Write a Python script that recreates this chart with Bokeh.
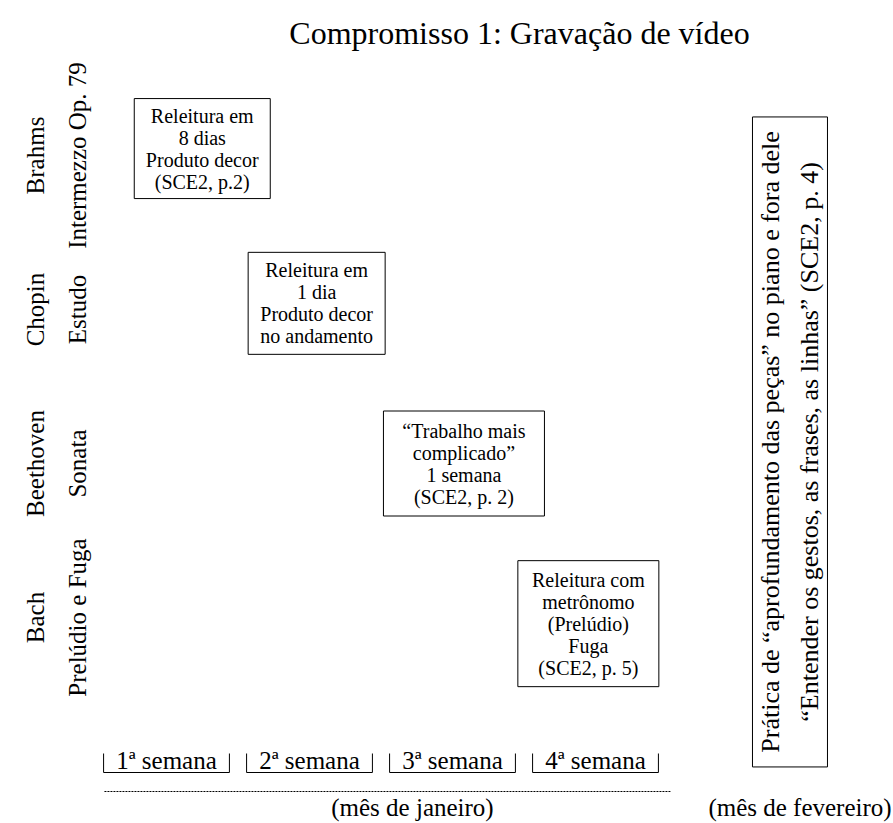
import math
from bokeh.plotting import figure
from bokeh.models import Range1d
from bokeh.core.properties import value
from bokeh.embed import file_html
from bokeh.resources import INLINE

# ---------------- data ----------------
TITLE = "Compromisso 1: Gravação de vídeo"
pieces = ["Brahms\nIntermezzo Op. 79", "Chopin\nEstudo", "Beethoven\nSonata", "Bach\nPrelúdio e Fuga"]
piece_rows = [1, 2, 3, 4]
weeks = ["1ª semana", "2ª semana", "3ª semana", "4ª semana"]
week_pos = [1, 2, 3, 4]
task_texts = [
    "Releitura em\n8 dias\nProduto decor\n(SCE2, p.2)",
    "Releitura em\n1 dia\nProduto decor\nno andamento",
    "\u201cTrabalho mais\ncomplicado\u201d\n1 semana\n(SCE2, p. 2)",
    "Releitura com\nmetrônomo\n(Prelúdio)\nFuga\n(SCE2, p. 5)",
]
task_week = [1.25, 2.05, 3.08, 3.95]
task_row = [0.955, 1.96, 3.0, 4.04]
months = ["(mês de janeiro)", "(mês de fevereiro)"]
month_pos = [2.72, 5.43]
feb_text = ("Prática de \u201caprofundamento das peças\u201d no piano e fora dele\n"
            "\u201cEntender os gestos, as frases, as linhas\u201d (SCE2, p. 4)")
feb_pos = 5.36
feb_row = 2.86

# ---------------- layout / style ----------------
W, H = 893, 823
PX_WEEK, PX_ROW = 143, 154          # pixels per week / per row
X1_PX, Y1_PX = 166, 155             # pixel position of week 1 / row 1
BOX_W = [136, 137, 161, 141]
BOX_H = [100, 102, 105, 126]
FEB_W, FEB_H = 75, 650
FONT = value("Liberation Serif")

def col(px):   # pixel -> week units
    return 1 + (px - X1_PX) / PX_WEEK

def row(py):   # pixel -> row units
    return 1 + (py - Y1_PX) / PX_ROW

p = figure(width=W, height=H, output_backend="svg", toolbar_location=None,
           x_range=Range1d(col(0), col(W)), y_range=Range1d(row(H), row(0)),
           min_border=0, outline_line_color=None)
p.axis.visible = False
p.grid.visible = False
p.background_fill_color = "white"
p.border_fill_color = "white"

# title
p.text(x=[col(519)], y=[row(32)], text=[TITLE], text_align="center", text_baseline="middle",
       text_font=FONT, text_font_size="32px", text_color="black")

# piece labels (rotated)
p.text(x=[col(56)] * len(pieces), y=piece_rows, text=pieces, angle=math.pi / 2,
       text_align="center", text_baseline="middle", text_font=FONT, text_font_size="25px",
       text_line_height=1.55, text_color="black")

# task boxes
p.rect(x=task_week, y=task_row, width=BOX_W, height=BOX_H, width_units="screen",
       height_units="screen", fill_color=None, line_color="black", line_width=1)
p.text(x=task_week, y=task_row, text=task_texts, text_align="center", text_baseline="middle",
       text_font=FONT, text_font_size="20px", text_line_height=1.0, text_color="black")

# February box
p.rect(x=[feb_pos], y=[feb_row], width=FEB_W, height=FEB_H, width_units="screen",
       height_units="screen", fill_color=None, line_color="black", line_width=1)
p.text(x=[feb_pos], y=[feb_row], text=[feb_text], angle=math.pi / 2, text_align="center",
       text_baseline="middle", text_font=FONT, text_font_size="26px", text_line_height=1.35,
       text_color="black")

# week labels with brackets
half = 0.44
yb, yt = row(772), row(753)
xs = [[w - half, w - half, w + half, w + half] for w in week_pos]
ys = [[yt, yb, yb, yt] for _ in week_pos]
p.multi_line(xs=xs, ys=ys, line_color="black", line_width=1)
p.text(x=week_pos, y=[row(760)] * len(weeks), text=weeks, text_align="center",
       text_baseline="middle", text_font=FONT, text_font_size="25px", text_color="black")

# dotted month line
p.line(x=[week_pos[0] - 0.434, week_pos[-1] + 0.524], y=[row(791), row(791)],
       line_color="black", line_width=1, line_dash="2 1")

# month labels
p.text(x=month_pos, y=[row(807)] * len(months), text=months, text_align="center",
       text_baseline="middle", text_font=FONT, text_font_size="25px", text_color="black")

open("out.html", "w").write(file_html(p, INLINE))
